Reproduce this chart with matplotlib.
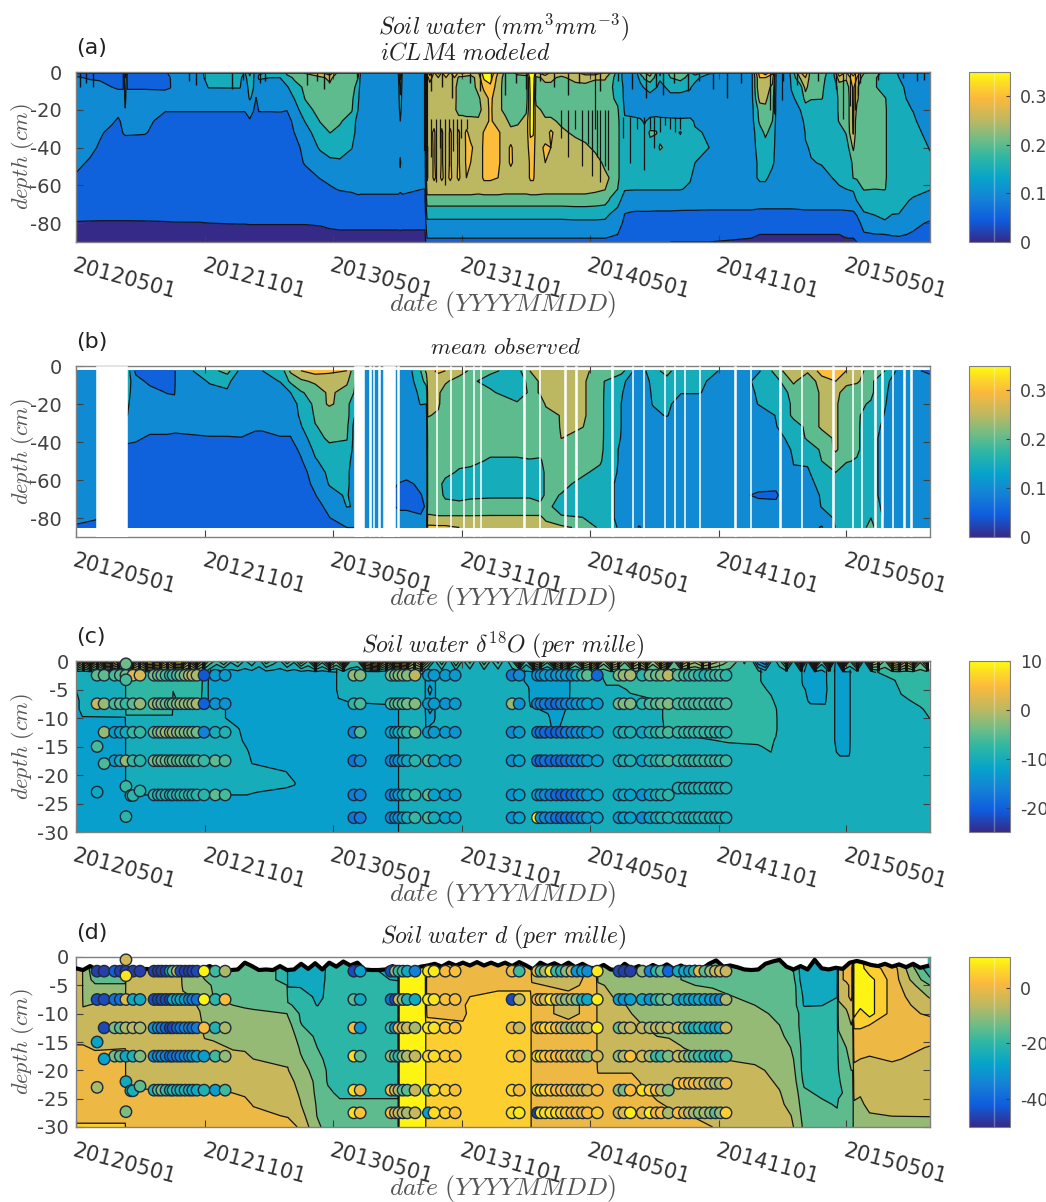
import numpy as np
import matplotlib
matplotlib.use('Agg')
import matplotlib.pyplot as plt
from matplotlib.colors import LinearSegmentedColormap, Normalize
from matplotlib.cm import ScalarMappable
from datetime import date

plt.rcParams['mathtext.fontset'] = 'cm'
plt.rcParams['contour.negative_linestyle'] = 'solid'

W, H = 1046.0, 1202.0
N = np.nan

parula = LinearSegmentedColormap.from_list('parula', [
    (0.0, '#352a87'), (0.125, '#0f5cdd'), (0.25, '#1481d6'), (0.375, '#06a4ca'),
    (0.5, '#2eb7a4'), (0.6, '#6fbc86'), (0.72, '#c0b860'), (0.85, '#fbb93c'),
    (0.92, '#fcd52a'), (1.0, '#fdfb0e')])

tick_dates = [date(2012, 5, 1), date(2012, 11, 1), date(2013, 5, 1), date(2013, 11, 1),
              date(2014, 5, 1), date(2014, 11, 1), date(2015, 5, 1)]
tick_names = [d.strftime('%Y%m%d') for d in tick_dates]
tick_days = [(d - tick_dates[0]).days for d in tick_dates]
last_day = 1214

# ---- (a) modeled soil water, percent, one line per date
rows_a = [0, -3, -8, -14, -20, -26, -32, -40, -48, -56, -62, -68, -74, -80, -86, -90]
days_a = [0, 20, 34, 51, 60, 67, 70, 73, 98, 127, 134, 140, 176, 182, 188, 233, 240, 247, 252, 256, 260,
          276, 290, 300, 311, 326, 347, 361, 375, 392, 401, 405, 458, 461, 464, 493, 496,
          499, 503, 509, 515, 520, 526, 532, 538, 544, 549, 555, 561, 572, 580, 589, 600, 610, 618, 628, 640,
          646, 650, 654, 667, 675, 690, 710, 724, 738, 752, 759, 770, 780, 795, 802, 808, 816, 825, 830, 845,
          859, 873, 880, 900, 960, 972, 980, 990, 996, 1010, 1017, 1030, 1037, 1045, 1060, 1075, 1085,
          1095, 1105, 1110, 1120, 1135, 1150, 1160, 1170, 1190, 1214]
swc_a = [
    [8, 10.5, 12, 12, 12, 12, 12, 12, 12, 9, 8, 8, 8, 4.5, 3, 3],
    [8, 9.5, 12, 12, 12, 12, 12, 12, 9, 8, 8, 8, 8, 4.3, 3, 3],
    [8, 9, 12, 12, 12, 12, 11, 9, 8, 8, 8, 8, 8, 4.2, 3, 3],
    [8, 8.5, 10, 12, 12, 11, 8, 8, 8, 8, 8, 8, 8, 4.2, 3, 3],
    [8, 8.5, 9.5, 12, 12, 9, 8, 8, 8, 8, 8, 8, 8, 4.2, 3, 3],
    [9, 9, 9.5, 12, 12, 11.5, 10.2, 8, 8, 8, 8, 8, 8, 4.2, 3, 3],
    [24, 20, 18, 16, 14.8, 12, 10.5, 8, 8, 8, 8, 8, 8, 4.2, 3, 3],
    [9, 9, 9.5, 12, 12, 12, 10.5, 8, 8, 8, 8, 8, 8, 4.2, 3, 3],
    [8, 8.5, 9.5, 12, 12, 11.5, 10.3, 8, 8, 8, 8, 8, 8, 4.3, 3, 3],
    [8, 8.5, 9.3, 12, 10.4, 8, 8, 8, 8, 8, 8, 8, 8, 4.5, 3, 3],
    [14, 10, 9.8, 12, 10.4, 8, 8, 8, 8, 8, 8, 8, 8, 4.6, 3, 3],
    [12, 12, 12, 12, 10.4, 8, 8, 8, 8, 8, 8, 8, 8, 4.7, 3, 3],
    [13, 12, 12, 12, 10.4, 8, 8, 8, 8, 8, 8, 8, 7.5, 4.8, 3, 3],
    [15.5, 15, 12, 12, 10.4, 8, 8, 8, 8, 8, 8, 8, 7.5, 4.9, 3, 3],
    [18, 16, 15.2, 12, 10.4, 8, 8, 8, 8, 8, 8, 8, 7.5, 5, 3, 3],
    [18, 16, 15.3, 12, 10.4, 8, 8, 8, 8, 8, 8, 8, 7.5, 5.2, 3, 3],
    [15, 13, 12, 12, 10.4, 8, 8, 8, 8, 8, 8, 8, 7.5, 5.2, 3, 3],
    [22, 19, 17, 15.5, 12, 9.5, 8, 8, 8, 8, 8, 8, 7.5, 5.3, 3, 3],
    [16, 15.6, 15.2, 14, 10.4, 8, 8, 8, 8, 8, 8, 8, 7.5, 5.3, 3, 3],
    [13, 12, 12, 9.8, 8, 8, 8, 8, 8, 8, 8, 8, 7.5, 5.3, 3, 3],
    [14, 16, 11, 12, 10.4, 8, 8, 8, 8, 8, 8, 8, 7.5, 5.3, 3, 3],
    [15.5, 15, 12, 12, 10.4, 8, 8, 8, 8, 8, 8, 8, 7.5, 5.3, 3, 3],
    [16, 15, 14, 12, 10.5, 8, 8, 8, 8, 8, 8, 8, 7.5, 5.3, 3, 3],
    [22, 18, 14.5, 12, 10.2, 8, 8, 8, 8, 8, 8, 8, 7.5, 5.3, 3, 3],
    [22, 21, 18, 15.3, 13, 11.5, 10.2, 8, 8, 8, 8, 8, 7.5, 5.3, 3, 3],
    [26, 22, 21, 20.3, 18, 15.3, 13, 12, 10.5, 8, 8, 8, 7.5, 5.3, 3, 3],
    [30, 24, 22, 22, 22, 20.2, 18, 15.5, 13, 10.2, 8, 8, 8, 5.5, 3.5, 3],
    [35, 26, 24, 22, 22, 22, 20.1, 17, 14, 11, 9.5, 8, 8, 6, 4, 3],
    [22, 22, 22, 22, 21, 20.5, 19, 16.5, 14.5, 11.5, 10.3, 8, 7.5, 6.5, 4, 3],
    [23, 22, 22, 21, 20.4, 18, 17, 15.2, 13, 11.5, 10.5, 8.8, 7.5, 6.5, 4, 3],
    [22, 20, 18, 16, 15, 13, 13, 12, 12, 12, 11, 9, 7.5, 6.5, 4, 3],
    [14, 13, 12, 12, 12, 12, 12, 12, 12, 12, 11, 8.8, 7.5, 6.5, 4, 3],
    [14, 13, 12, 12, 12, 12, 12, 12, 12, 12, 11, 8.8, 7.5, 6.5, 4, 3],
    [30, 26, 22, 19, 17, 15, 13, 11, 9.5, 11, 10.5, 8.8, 7.5, 6.5, 4.2, 3],
    [14, 13, 12, 12, 12, 12, 12, 12, 12, 12, 11, 8.8, 7.5, 6.5, 4, 3],
    [14, 13, 12, 12, 12, 12, 12, 12, 12, 11, 10, 8.6, 7.5, 6.5, 4, 3],
    [14, 13, 12, 12, 12, 12, 12, 12, 12, 11, 10, 8.6, 7.5, 6.5, 4, 3],
    [32, 28, 27, 27, 27, 27, 28, 31, 31, 31, 27, 23, 17, 14, 11, 9],
    [40, 32, 28, 27, 27, 27, 28, 27, 27, 27, 27, 23, 17, 14, 11, 9],
    [30, 28, 27, 27, 27, 28, 31, 31, 31, 31, 27, 23, 17, 14, 11, 9],
    [38, 30, 27, 27, 27, 26, 26, 26, 26, 28, 27, 23, 17, 14, 11, 9],
    [30, 28, 27, 27, 27, 28, 31, 31, 31, 31, 27, 23, 17, 14, 11, 9],
    [36, 30, 27, 27, 27, 26, 26, 26, 26, 28, 27, 23, 17, 14, 11, 9],
    [30, 28, 27, 27, 27, 28, 31, 31, 31, 31, 27, 23, 17, 14, 11, 9],
    [36, 30, 27, 27, 26, 26, 27, 27, 27, 28, 27, 23, 17, 14, 11, 9],
    [30, 24, 22, 22, 23, 27, 31, 31, 31, 31, 27, 23, 17, 14, 11, 9],
    [34, 23, 22, 22, 23, 27, 27, 26, 26, 28, 27, 23, 17, 14, 11, 9],
    [30, 23, 22, 22, 22, 27, 31, 31, 31, 30, 27, 23, 17, 14, 11, 9],
    [28, 23, 22, 22, 22, 27, 28, 31, 30, 28, 27, 23, 17, 14, 11, 9],
    [30, 27, 27, 24, 23, 26, 27, 27, 27, 27, 26.5, 23, 17, 14, 11, 9],
    [38, 36, 31, 28, 27, 27, 30.5, 31, 31, 31, 27, 23, 17, 14, 11, 9],
    [40, 37, 34, 31, 31, 31, 31, 31, 31, 31, 27, 23, 17, 14, 11, 9],
    [30, 28, 27, 27, 26, 27, 31, 31, 31, 30, 27, 23, 17, 14, 11, 9],
    [24, 23, 23, 23, 24, 26, 27, 27, 27, 27, 26.5, 23, 17, 14, 11, 9],
    [24, 22, 22, 22, 22, 24, 26, 31, 31, 27, 26.5, 23, 17, 14, 11, 9],
    [28, 22, 22, 22, 22, 24, 27, 26, 27, 27, 26.5, 23, 17, 14, 11, 9],
    [30, 22, 22, 22, 24, 27, 27, 27, 27, 27, 26.5, 23, 17, 14, 11, 9],
    [42, 38, 37, 36, 36, 36, 36, 33, 31, 31, 27, 23, 17, 14, 11, 9],
    [45, 40, 38, 37, 36, 36, 35.5, 33, 32, 31, 27, 23, 17, 14, 11, 9],
    [30, 24, 23, 22, 27, 27, 27, 27, 27, 27, 27, 23, 17, 14, 11, 9],
    [36, 26, 24, 22, 23, 26, 27, 31, 30, 27, 26.5, 23, 17, 14, 11, 9],
    [30, 26, 24, 23, 23, 26, 31, 30, 27, 27, 26.5, 23, 17, 14, 11, 9],
    [28, 24, 23, 23, 23, 24, 26, 27, 27, 27, 26.5, 23, 17, 14, 11, 9],
    [30, 27, 23, 22, 22, 24, 24, 27, 27, 27, 26.5, 23, 17.5, 14, 11, 9],
    [32, 28, 23, 22, 22, 23, 23, 26, 27, 27, 26.5, 23, 17.5, 14, 11, 9],
    [34, 26, 22, 22, 22, 22, 22, 24, 27, 27, 26, 22.5, 17.5, 14, 11, 9],
    [30, 26, 22, 22, 22, 21, 21, 21, 24, 26, 25.2, 22, 17, 14, 11, 9],
    [26, 22, 21, 21, 21, 21, 21, 22, 24, 24.8, 22, 19.5, 15.5, 13, 10.5, 9],
    [18, 18, 18, 19, 20.5, 21, 21, 21, 21, 21, 20, 16.5, 14, 12, 10, 8],
    [13, 13, 14, 14, 14.5, 15.5, 16, 16, 16, 16, 15.3, 13, 10.2, 9, 8, 7],
    [12, 13, 13, 13.5, 14, 15.5, 16, 17, 16, 16, 15.2, 12.5, 9.9, 8, 7, 6],
    [22, 16, 14, 14, 14, 15.3, 16, 19, 16, 16, 15.2, 12.5, 9.9, 8, 7, 6],
    [25, 21, 15.4, 12, 13, 14.8, 15.5, 16, 16, 16, 15.2, 12.5, 9.9, 8, 6.5, 5.5],
    [28, 24, 16, 14, 14, 15.5, 21, 18, 16, 16, 15.2, 12.5, 9.9, 8, 6.5, 5.5],
    [20, 18, 15.2, 12, 13.5, 16, 20.5, 16, 15.5, 16, 15.2, 12.5, 9.8, 8, 6.5, 5.5],
    [14, 15.5, 14, 13, 14, 15.5, 17, 21, 15.3, 16, 15.2, 12.5, 9.8, 8, 6.5, 5.5],
    [22, 20, 16, 14, 14, 15.4, 16, 17, 16, 16, 15.2, 12.5, 9.8, 7.5, 6, 5],
    [25, 22, 16, 14, 14, 15.3, 20.5, 17, 17, 16, 15.2, 12.3, 9.7, 7.5, 6, 5],
    [20, 18, 15.3, 14, 14, 15.4, 16, 16, 15.8, 15.3, 14.5, 12, 9.7, 7.5, 6, 5],
    [25, 16, 14, 13, 13, 14.8, 15.2, 15.1, 15, 14, 13.5, 12, 9.7, 7.5, 6, 5],
    [16, 13, 13, 13, 13, 13, 14.8, 15, 14.5, 13, 13, 12, 9.6, 7.5, 6, 5],
    [13, 13, 13, 13, 13, 13, 13, 13, 13, 13, 13, 12, 9.6, 7, 5.5, 4.5],
    [34, 30, 30, 27, 22, 21, 18, 17, 16, 16, 13, 12, 9.3, 7, 5, 4],
    [40, 30, 27, 26, 24, 21, 21, 18, 17, 16, 13, 12, 9.3, 7, 5, 4],
    [32, 27, 24, 22, 22, 20, 18, 17, 16, 13, 13, 12, 9.3, 7, 5, 4],
    [13, 13, 13, 13, 13, 13, 13, 13, 13, 13, 13, 12, 9.3, 7, 5, 4],
    [13, 13, 13, 13, 13, 13, 13, 13, 13, 13, 13, 12, 9.3, 7, 5, 4],
    [16, 15.5, 15.2, 14.5, 13, 13, 13, 13, 13, 13, 13, 12, 9.3, 7, 5, 4],
    [30, 26, 18, 16, 15.1, 14, 13, 13, 13, 13, 13, 12, 9.5, 7, 5, 4],
    [34, 30, 27, 22, 17, 15.8, 15.2, 14.8, 13, 13, 13, 12, 9.6, 7, 5, 4],
    [22, 22, 21, 20.5, 16, 16, 15.5, 15.2, 14.9, 13, 13, 12, 9.6, 7, 5, 4],
    [24, 22, 21, 20.3, 16, 16, 16, 15.5, 15.1, 14.5, 13, 12, 9.6, 7, 5, 4],
    [16, 16, 16, 16, 16, 16, 16, 15.8, 15.4, 15, 14.8, 12, 9.6, 7, 5, 4],
    [36, 28, 22, 21, 21, 20.5, 17, 16, 16, 15.4, 14.8, 12, 9.6, 7, 5, 4],
    [30, 26, 22, 21, 21, 21, 20.5, 17, 16, 15.5, 15, 13, 9.6, 7, 5.5, 4.5],
    [40, 33, 31, 31, 31, 31, 30.5, 26, 21, 20.2, 15.4, 13.5, 9.8, 7.5, 5.5, 4.5],
    [34, 30, 26, 26, 24, 21, 21, 21, 21, 20.5, 17, 15.2, 11, 8, 5.5, 5],
    [26, 22, 21, 21, 21, 21, 21, 21, 21, 21, 20.4, 16, 15, 12, 9.5, 5.5],
    [24, 21, 21, 21, 21, 21, 21, 21, 21, 21, 20, 16, 15.2, 14.5, 9.8, 8],
    [18, 16, 16, 20.5, 21, 21, 21, 21, 21, 21, 20.3, 16, 15.5, 14.8, 10, 8],
    [16, 15.5, 16, 16, 16, 16, 16, 16, 16, 16, 16, 15.5, 15.3, 14, 10.3, 8.5],
    [14.5, 15, 16, 16, 16, 16, 16, 16, 16, 16, 16, 15.5, 15.2, 14, 10.5, 8.5],
    [12, 12, 13, 14, 14.9, 15.5, 16, 16, 16, 16, 15.5, 14.8, 13, 11, 9.6, 8.5],
    [12, 12, 12, 12, 12, 13, 14, 14.9, 15.3, 15.3, 15.1, 14, 12, 9.5, 9, 8.5],
]
# narrow dark spikes between the model layers: date, upper depth, lower depth
spike_days_a = [505, 512, 518, 524, 530, 536, 542, 548, 556,
                690, 700, 710, 720, 728, 733, 740, 745, 752, 756,
                777, 788, 797, 808, 816, 822, 830, 838, 845, 852, 858,
                738, 987, 992, 1003, 1090, 1100, 1107, 1112]
spike_top_a = [-25, -25, -25, -25, -25, -25, -25, -25, -25,
               -20, -20, -20, -20, -20, -20, -20, -20, -20, -20,
               -24, -24, -24, -24, -24, -24, -24, -24, -24, -24, -24,
               0, 0, 0, 0, 0, 0, 0, 0]
spike_low_a = [-45, -58, -40, -60, -50, -42, -38, -35, -30,
               -35, -45, -30, -50, -38, -55, -45, -58, -50, -52,
               -35, -48, -30, -52, -30, -40, -32, -28, -30, -32, -30,
               -30, -20, -22, -15, -25, -18, -20, -12]
fringe_days_a = [6, 14, 24, 160, 170, 222, 238, 262, 268, 328, 342, 352, 360, 400,
                 505, 520, 535, 560, 575, 590, 610, 625, 640, 660, 680, 700, 715, 745, 770, 790, 810,
                 825, 835, 850, 870, 885, 905, 925, 945, 1005, 1025, 1055, 1080, 1115, 1140, 1175, 1195, 1205]
fringe_low_a = [-8, -6, -8, -5, -7, -9, -4, -6, -5, -7, -5, -9, -6, -3,
                -10, -8, -14, -6, -10, -5, -12, -6, -9, -5, -8, -12, -6, -10, -5, -9, -14,
                -8, -12, -6, -10, -5, -9, -14, -6, -5, -7, -5, -9, -6, -4, -3, -5, -4]

# ---- (b) observed soil water, percent
rows_b = [-2.5, -8, -14, -20, -26, -32, -38, -44, -50, -56, -62, -68, -74, -80, -85]
days_b = [0, 28, 72, 85, 105, 130, 140, 142, 190, 215, 235, 255, 265, 290, 305, 320, 340, 360, 385, 395,
          415, 462, 470, 490, 498, 500, 515, 525, 545, 561, 589, 627, 645, 660, 668, 690, 720, 745, 775, 800,
          820, 840, 860, 885, 930, 950, 970, 995, 1020, 1040, 1060, 1080, 1095, 1110, 1130, 1150, 1175, 1214]
swc_b = [
    [12, 12, 12, 12, 12, 12, 12, 12, 12, 12, 12, 12, 12, 11, 9.5],
    [14, 12, 12, 12, 12, 12, 12, 12, 12, 12, 12, 12, 12, 10.5, 8],
    [18, 18, 17, 16, 15.3, 12, 11, 9, 8, 8, 8, 8, 8, 8, 8],
    [9, 11.5, 12, 12, 12, 11, 10.5, 9, 8, 8, 8, 8, 8, 8, 8],
    [8, 9, 11.5, 12, 12, 11, 9.5, 8, 8, 8, 8, 8, 8, 8, 8],
    [8, 8, 9.8, 12, 12, 11, 9.5, 8, 8, 8, 8, 8, 8, 8, 8],
    [8, 8, 9.5, 12, 12, 10.5, 9.6, 8, 8, 8, 8, 8, 8, 8, 8],
    [12, 12, 12, 12, 12, 10.5, 9.6, 8, 8, 8, 8, 8, 8, 8, 8],
    [18, 15.3, 14, 12, 12, 11, 9.8, 8, 8, 8, 8, 8, 8, 8, 8],
    [22, 16, 14.5, 12, 12, 11, 9.8, 8, 8, 8, 8, 8, 8, 8, 8],
    [13, 12, 12, 12, 12, 11, 9.9, 8, 8, 8, 8, 8, 8, 8, 8],
    [12, 12, 12, 10.2, 10.5, 10.3, 9.5, 8, 8, 8, 8, 8, 8, 8, 8],
    [15, 13, 12, 12, 12, 10.3, 9.5, 8, 8, 8, 8, 8, 8, 8, 8],
    [16, 15.2, 12, 12, 12, 11, 9.8, 8, 8, 8, 8, 8, 8, 8, 8],
    [26, 21, 15, 12, 12, 11, 9.8, 8, 8, 8, 8, 8, 8, 8, 8],
    [30, 24, 19.5, 17, 16, 14.7, 12.5, 11, 9.5, 8, 8, 8, 8, 8, 8],
    [32, 26, 22, 21, 20.5, 19.8, 18, 16, 14.5, 12.5, 11, 9.8, 8, 8, 8],
    [31, 27, 26, 26, 21, 21, 21, 18.5, 17, 16, 15.3, 13.5, 11.5, 9.8, 8],
    [30, 26, 23, 22, 22, 21, 20.4, 18, 17, 16, 16, 15.5, 15.1, 13, 10],
    [22, 21, 20, 16, 15.5, 14, 14, 14, 13, 13, 13, 13, 14.9, 12, 10],
    [11, 12, 12, 12, 12, 12, 12, 12, 12, 12, 12, 12, 12, 12, 12],
    [12, 12, 12, 12, 12, 12, 12, 12, 12, 11, 9.8, 9, 9.5, 11, 12],
    [12, 12, 12, 12, 12, 12, 12, 12, 12, 11, 9.5, 8, 9.5, 11, 12],
    [20, 18, 16, 15.2, 12, 12, 12, 12, 12, 11, 10.5, 9.9, 9, 10.5, 12],
    [26, 22, 17, 15, 12, 12, 12, 12, 11, 10.5, 10.5, 10.5, 10.5, 10.2, 10.2],
    [28, 27, 26, 26, 25.5, 22, 21, 21, 21, 21, 21, 21, 21, 27, 31],
    [31, 27, 26, 26, 24, 22, 21, 21, 21, 21, 21, 21, 21, 26, 31],
    [30, 26, 22, 21, 21, 21, 21, 21, 21, 21, 19, 19.5, 21, 26, 31],
    [28, 22, 21, 21, 21, 21, 21, 21, 21, 19.5, 18, 19, 21, 26, 30],
    [24, 21, 21, 21, 21, 21, 21, 21, 21, 19, 18, 19.5, 21, 26, 30],
    [21, 18, 21, 21, 21, 21, 21, 21, 19.5, 18, 18, 19.5, 21.5, 26, 28],
    [18, 18, 16, 21, 21, 21, 21, 21, 19.5, 18, 18, 19.5, 21.5, 26, 28],
    [25, 21, 21, 21, 21, 21, 21, 21, 19.8, 18, 18, 19.5, 21.5, 26, 28],
    [28, 26, 26, 21, 21, 21, 21, 21, 19.6, 18, 18, 18, 21.5, 26, 27],
    [28, 26, 26, 26, 22, 21, 21, 21, 21, 21, 21, 21, 22, 24, 27],
    [27, 26, 26, 26, 25.5, 25.5, 25.1, 21, 21, 21, 21, 19.8, 17, 21, 26],
    [27, 26, 26, 26, 26, 25.2, 22, 21, 21, 20.6, 19, 17, 17, 20.2, 24],
    [22, 21, 21, 21, 21, 21, 21, 21, 20.5, 19, 17, 17, 17, 17, 19],
    [22, 16, 15.3, 15, 15, 15, 14.8, 14, 14, 14, 14, 14, 14, 14, 14],
    [12, 12, 12, 12, 12, 12, 12, 12, 12, 12, 12, 12, 12, 11, 9.8],
    [18, 16, 15.5, 15.2, 14, 12, 12, 12, 12, 12, 12, 12, 12, 12, 11],
    [22, 18, 16, 15.5, 15.3, 12, 12, 12, 12, 12, 12, 12, 12, 12, 12],
    [16, 15.4, 15.1, 14, 12, 12, 12, 12, 12, 12, 12, 12, 12, 12, 12],
    [20, 16, 15.3, 12, 12, 12, 12, 12, 12, 12, 12, 12, 12, 12, 12],
    [12, 12, 12, 12, 12, 12, 12, 12, 12, 12, 12, 12, 12, 12, 12],
    [12, 12, 12, 12, 12, 12, 12, 12, 12, 12, 12, 10.3, 12, 12, 12],
    [14, 18, 16, 15.2, 12, 12, 12, 12, 12, 12, 11, 9.6, 11, 12, 12],
    [22, 18, 16, 15.5, 15.2, 14.8, 14.5, 14, 12, 12, 11, 9.4, 11, 12, 12],
    [30, 26, 22, 21, 21, 18, 15.5, 15.2, 15.1, 14.8, 14.5, 14, 12, 12, 12],
    [26, 21, 21, 21, 21, 21, 21, 16, 15.2, 14.8, 14.5, 14, 12, 12, 12],
    [32, 28, 26, 26, 26, 26, 22, 21, 20, 16, 15.5, 15.2, 15.2, 13, 9.5],
    [34, 30, 27, 26, 26, 26, 26, 26, 21, 20, 16, 16, 15.8, 15.5, 15.2],
    [30, 27, 22, 21, 21, 21, 21, 21, 20.5, 17, 16, 16, 16, 16, 15.5],
    [28, 26, 21, 21, 21, 21, 21, 21, 19.5, 16, 16, 16, 16, 16, 16],
    [22, 21, 21, 19.5, 17, 16, 16, 16, 16, 16, 16, 16, 17, 20, 22],
    [20, 16, 15.5, 15.2, 14.8, 14.5, 14, 14, 14, 14, 14, 14, 14, 14, 14],
    [12, 12, 12, 12, 12, 12, 12, 12, 12, 12, 12, 12, 12, 12, 11.5],
    [9, 12, 12, 12, 12, 12, 12, 12, 12, 12, 12, 12, 12, 12, 11],
]
missing_b = [(28, 72), (395, 409), (417, 419), (422, 424), (430, 432), (436, 454), (457, 459),
             (512, 513), (531, 533), (550, 552), (564, 566), (574, 576), (636, 638), (658, 660), (694, 696),
             (710, 712), (761, 763), (790, 792), (806, 808), (836, 838), (850, 851), (864, 866), (885, 887),
             (936, 938), (958, 960), (1000, 1002), (1030, 1032), (1075, 1077), (1103, 1105), (1116, 1118),
             (1135, 1137), (1145, 1147), (1176, 1178), (1186, 1188), (1160, 1162)]

# ---- (c) soil water d18O, per mille
rows_c = [-1.5, -3.5, -5, -7, -8.5, -10, -12, -14, -16, -18, -20, -21.5, -23, -24.5, -30]
days_c = [0, 9, 68, 70, 71, 137, 138, 149, 178, 181, 195, 230, 243, 250, 299, 311, 314, 368, 373, 390,
          458, 459, 482, 495, 498, 503, 509, 513, 631, 643, 646, 671, 678, 688, 700, 704, 741, 754, 771, 788,
          830, 838, 927, 969, 975, 988, 995, 998, 1030, 1033, 1044, 1065, 1068, 1071, 1086, 1099, 1102,
          1135, 1140, 1164, 1173, 1200, 1214]
d18o_c = [
    [-9, -9, -10, -11, -11, -11, -11, -11, -11, -11, -11, -11, -11, -11, -11],
    [-9, -9, -9, -9, -9, -10.2, -11, -11, -11, -11, -11, -11, -11, -11, -11],
    [-8, -9, -9, -9, -9, -10.1, -11, -11, -11, -11, -11, -11, -11, -11, -11],
    [-8, -9, -9, -9, -9, -10.1, -11, -11, -11, -11, -11, -11, -11, -11, -11],
    [-6, -6, -6, -6, -6.5, -8, -9, -9, -9, -9, -9, -9, -9.5, -11, -11],
    [-6, -6, -6, -6, -6.5, -8, -9, -9, -9, -9, -9, -9, -9.5, -11, -11],
    [-6, -6, -7.2, -9, -9, -9, -9, -9, -9, -9, -9, -9, -9.5, -11, -11],
    [-6, -6, -6, -6, -7.5, -9, -9, -9, -9, -9, -9, -9, -9.5, -11, -11],
    [-6, -6, -6.5, -7.5, -9, -9, -9, -9, -9, -9, -9, -9, -9.5, -11, -11],
    [-7, -9, -9, -9, -9, -9, -9, -9, -9, -9, -9, -9, -9.5, -11, -11],
    [-11, -11, -11, -11, -9, -9, -9, -9, -9, -9, -9, -9, -9.5, -11, -11],
    [-11, -11, -11, -11, -11, -11, -9.8, -9, -9, -9, -9, -9, -9.5, -11, -11],
    [-11, -11, -11, -11, -11, -11, -11, -11, -9.5, -9, -9, -9, -9.5, -11, -11],
    [-11, -11, -11, -11, -11, -11, -11, -11, -11, -10, -9, -9, -9.8, -11, -11],
    [-11, -11, -11, -11, -11, -11, -11, -11, -11, -11, -9.6, -9, -11, -11, -11],
    [-11, -11, -11, -11, -11, -11, -11, -11, -11, -11, -11, -9.8, -11, -11, -11],
    [-11, -11, -11, -11, -11, -11, -11, -11, -11, -11, -11, -11, -11, -11, -11],
    [-11, -11, -11, -11, -11, -11, -11, -11, -11, -11, -11, -11, -11, -11, -11],
    [-9, -9, -9, -10.3, -11, -11, -11, -11, -11, -11, -11, -11, -11, -11, -11],
    [-9, -9, -9, -9.8, -11, -11, -11, -11, -11, -11, -11, -11, -11, -11, -11],
    [-9, -9, -9, -9, -11, -11, -11, -11, -11, -11, -11, -11, -11, -11, -11],
    [-8, -9, -9, -9, -9, -9, -9, -9, -9, -9, -9, -9, -9, -9, -9],
    [-6, -8, -9, -9, -9, -9, -9, -9, -9, -9, -9, -9, -9, -9, -9],
    [-7, -9, -9, -9, -9, -9, -9, -9, -9, -9, -9, -9, -9, -9, -9],
    [-11, -11, -11, -11, -11, -10.5, -10.5, -9, -9, -9, -9, -9, -9, -9, -9],
    [-9, -11, -9, -11, -9, -11, -9.5, -9.8, -9, -9, -9, -9, -9, -9, -9],
    [-11, -11, -11, -11, -10.5, -10.5, -9, -9, -9, -9, -9, -9, -9, -9, -9],
    [-9, -9, -9, -9, -9, -9, -9, -9, -9, -9, -9, -9, -9, -9, -9],
    [-9, -9, -9, -9, -9, -9, -9, -9, -9, -9, -9, -9, -9, -9, -9],
    [-11, -11, -9.5, -9, -9, -9, -9, -9, -9, -9, -9, -9, -9, -9, -9],
    [-11, -11, -11, -11, -9.5, -9, -9, -9, -9, -9, -9, -9, -9, -9, -9],
    [-11, -11, -11, -11, -10.5, -9.5, -9, -9, -9, -9, -9, -9, -9, -9, -9],
    [-11, -11, -11, -11, -11, -11, -10.3, -9.5, -9, -9, -9, -9, -9, -9, -9],
    [-11, -11, -11, -11, -11, -10.5, -9.8, -9, -9, -9, -9, -9, -9, -9, -9],
    [-11, -11, -11, -10.6, -9.5, -9, -9, -9, -9, -9, -9, -9, -9, -9, -9],
    [-9, -9, -9, -9, -9, -9, -9, -9, -9, -9, -9, -9, -9, -9, -9],
    [-8, -9, -9, -9, -9, -9, -9, -9, -9, -9, -9, -9, -9, -9, -9],
    [-6, -7, -8, -9, -9, -9, -9, -9, -9, -9, -9, -9, -9, -9, -9],
    [-6, -6.5, -8.5, -9, -9, -9, -9, -9, -9, -9, -9, -9, -9, -9, -9],
    [-6, -6, -7, -8.5, -9, -9, -9, -9, -9, -9, -9, -9, -9, -9, -9],
    [-6, -6, -6, -7.5, -9, -9, -9, -9, -9, -9, -9, -9, -9, -9, -9],
    [-6, -6, -6, -6, -6, -6, -7, -9, -9, -9, -9, -9, -9, -9, -9],
    [-6, -6, -6, -6, -6, -6, -6, -7.2, -9, -9, -9, -9, -9, -9, -9],
    [-6, -6, -6, -6, -6, -6, -6, -7, -8.5, -9, -9, -9, -9, -9, -9],
    [-8, -8, -6, -6, -6, -6, -6, -6.5, -8.5, -9, -9, -9, -9, -9, -9],
    [-9, -9, -9, -6, -6, -6, -6, -6, -7.5, -9, -9, -9, -9, -9, -9],
    [-9, -9, -9, -9, -7, -6, -6, -8.5, -9, -9, -9, -9, -9, -9, -9],
    [-9, -9, -9, -9, -9, -9, -9, -9, -9, -9, -9, -9, -9, -9, -9],
    [-9, -9, -9, -9, -9, -9, -9, -9, -9, -9, -9, -9, -9, -9, -9],
    [-11, -10.5, -9.5, -9, -9, -9, -9, -9, -9, -9, -9, -9, -9, -9, -9],
    [-11, -11, -11, -10.5, -9, -9, -9, -9, -9, -9, -9, -9, -9, -9, -9],
    [-11, -11, -11, -10.5, -9.2, -9, -9, -9, -9, -9, -9, -9, -9, -9, -9],
    [-9.5, -9.5, -9.8, -9, -9, -9, -9, -9, -9, -9, -9, -9, -9, -9, -9],
    [-9, -9, -9, -9, -9, -9, -9, -9, -9, -9, -9, -9, -9, -9, -9],
    [-11, -11, -11, -11, -11, -11, -11, -11, -10.5, -9, -9, -9, -9, -9, -9],
    [-11, -11, -11, -11, -11, -11, -11, -11, -10.5, -9, -9, -9, -9, -9, -9],
    [-9, -9, -9, -9, -9, -9, -9, -9, -9, -9, -9, -9, -9, -9, -9],
    [-9, -9, -9, -9, -9, -9, -9, -9, -9, -9, -9, -9, -9, -9, -9],
    [-7, -9, -9, -9, -9, -9, -9, -9, -9, -9, -9, -9, -9, -9, -9],
    [-6, -7.6, -9, -9, -9, -9, -9, -9, -9, -9, -9, -9, -9, -9, -9],
    [-6, -6, -6.8, -8.5, -9, -9, -9, -9, -9, -9, -9, -9, -9, -9, -9],
    [-6, -6, -6, -6.5, -8, -9, -9, -9, -9, -9, -9, -9, -9, -9, -9],
    [-6, -6, -6, -6, -6.5, -7.4, -9, -9, -9, -9, -9, -9, -9, -9, -9],
]

# ---- (d) soil water deuterium excess, per mille
rows_d = [0, -2, -4, -5, -7, -8.5, -10, -12, -14, -16, -18, -20, -22, -24, -26, -28, -30]
days_d = [0, 9, 10, 27, 68, 70, 71, 148, 152, 176, 183, 195, 223, 240, 252, 300, 301, 319, 343, 351, 358,
          375, 458, 459, 496, 499, 550, 560, 600, 646, 648, 700, 739, 742, 765, 790, 805, 826, 843, 860,
          880, 905, 935, 965, 1000, 1020, 1035, 1060, 1082, 1084, 1095, 1102, 1104, 1106, 1115, 1128, 1160,
          1214]
dexc_d = [
    [-3, -3, -3, -3, -3, -3, -3, -3, -3, 1, 3, 3, 3, 3, 3, 3, 6],
    [-3, -3, -3, -3, -3, -3, -3, -3, -3, 1, 3, 3, 3, 3, 3, 3, 6],
    [-8, -8, -8, -8, -7, -5.5, -3, -3, -3, 1, 3, 3, 3, 3, 3, 3, 6],
    [-12, -12, -11, -9.6, -7, -4.5, -3, -3, -3, -1, 3, 3, 3, 3, 3, 3, 6],
    [-12, -12, -11, -9.6, -7, -4.5, -3, -3, -3, -0.3, 3, 3, 3, 3, 3, 3, 6],
    [-12, -12, -11, -9.6, -7, -4.5, -3, -3, -3, -0.3, 3, 3, 3, 3, 3, 3, 6],
    [-4, -3, -3, -3, -3, -3, -3, -3, -3, -3, -3, -3, -2, 1, 3, 3, 3],
    [-4, -3, -3, -3, -3, -3, -3, -3, -3, -3, -3, -3, -2, 1, 3, 3, 3],
    [-7, -7, -6.5, -6, -4, -3, -3, -3, -3, -3, -3, -3, -2, 1, 3, 3, 3],
    [-11, -11, -8, -7, -6, -5.5, -4.8, -3, -3, -3, -3, -3, -2, 1, 3, 3, 3],
    [-12, -11, -10, -7, -7, -7, -7, -7, -5.5, -3, -3, -3, -2, 1, 3, 3, 3],
    [-12, -12, -12, -11, -10, -8, -7, -7, -6, -3.5, -3, -3, -2, 1, 3, 3, 3],
    [-13, -13, -13, -12, -11, -10, -8, -7, -6, -5.5, -3, -3, -2, 0, 3, 3, 3],
    [-13, -13, -13, -12.5, -11.5, -10.5, -9, -7, -7, -5.5, -4, -3, -2.5, -1, 2, 3, 3],
    [-14, -13, -13, -13, -11, -10.5, -9.5, -7, -7, -6, -5, -3, -3, -1, -0.5, 2, 3],
    [-16, -16, -16, -15, -12, -11, -10, -8, -7, -6, -5.5, -4.8, -3, -3, -2, -0.5, 3],
    [-22, -22, -22, -20.5, -17, -14, -10.5, -8, -7, -6, -5.5, -4.8, -3, -3, -2, -0.5, 3],
    [-22, -22, -21, -20.5, -18, -17, -15.5, -14.8, -12, -10.5, -9.5, -8, -7, -5.5, -4.8, -3, -1],
    [-23, -23, -22, -22, -20.8, -20.2, -18, -17, -16, -15, -13, -12, -11, -11, -10.5, -10.2, -9],
    [-23, -23, -22, -21, -20.2, -19, -18, -17, -17, -16, -15, -13, -13, -12, -12, -11, -10.5],
    [-17, -17, -17, -17, -17, -17, -17, -17, -17, -17, -16, -16, -15.5, -14, -13, -12, -10.5],
    [-17, -17, -17, -17, -17, -17, -17, -17, -17, -17, -17, -17, -17, -16, -14, -13, -12],
    [-22, -22, -20.5, -18, -17, -17, -17, -17, -17, -17, -17, -17, -17, -16, -14, -13, -12],
    [12, 12, 12, 12, 12, 12, 12, 12, 12, 12, 12, 12, 12, 12, 12, 12, 12],
    [12, 12, 12, 12, 12, 12, 12, 12, 12, 12, 12, 12, 12, 12, 12, 12, 12],
    [3, 3, 3, 3, 3, 3, 4, 7, 7, 7, 7, 7, 7, 7, 7, 7, 7],
    [-3, 3, 0, 3, 3, 4, 3, 6, 7, 7, 7, 7, 7, 7, 7, 7, 7],
    [-3, 3, 3, 3, 5, 7, 7, 7, 7, 7, 7, 7, 7, 7, 7, 7, 7],
    [3, 3, 3, 4, 6, 7, 7, 7, 7, 7, 7, 7, 7, 7, 7, 7, 7],
    [3, 3, 3, 4, 6, 7, 7, 7, 7, 7, 7, 7, 7, 7, 7, 7, 7],
    [-2, -2, -1, 1, 3, 3, 3, 3, 3, 3, 3, 3, 3, 3, 3, 3, 3],
    [-6, -6, -3, -2, 2, -2, -2, 2, 3, 3, 3, 3, 3, 3, 3, 3, 3],
    [3, 3, 3, 3, 3, 3, 3, 3, 3, 3, 3, 3, 3, 3, 3, 3, 3],
    [-8, -8, -6, -4, -3, -3, -3, -3, -3, -3, -3, -1, 3, 3, 3, 3, 3],
    [-8, -8, -7, -6.5, -5.2, -4, -3, -3, -3, -3, -3, -1, 3, 3, 3, 3, 3],
    [-8, -8, -8, -7, -6, -5.5, -5, -3, -3, -3, -3, -1, 3, 3, 3, 3, 3],
    [-8, -8, -8, -7, -6, -6, -6, -5, -3, -3, -3, -2.5, -1, 1, 3, 3, 3],
    [-9, -9, -8, -7, -7, -7, -6, -5.5, -5, -3, -3, -3, -2.5, -1, 0.5, 3, 3],
    [-9, -9, -9, -8, -7, -6, -6, -5.5, -5.2, -4, -3, -3, -3, -2, -0.5, 1, 3],
    [-10, -10, -10, -9, -7, -7, -6, -6, -5.5, -4.9, -3, -3, -3, -3, -1, 0.5, 3],
    [-13, -13, -10.3, -10, -8, -7, -7, -7, -7, -5.5, -4.5, -3, -3, -3, -2, -0.5, 2],
    [-13, -13, -12, -10.5, -8.5, -7, -7, -7, -7, -6, -4.7, -3, -3, -3, -3, -1.5, 0],
    [-13, -13, -13, -12, -10, -8.5, -7, -7, -7, -7, -5.5, -3, -3, -3, -3, -3, -2],
    [-13, -13, -13, -12, -11, -10, -9, -8, -7, -7, -6, -4, -3.5, -3.5, -3, -3, -3],
    [-13, -13, -13, -13, -12, -12, -10.8, -10, -9, -8, -7, -6.5, -5.5, -4.8, -4.5, -4, -4],
    [-16, -15.5, -14, -13, -13, -13, -13, -13, -12, -10.5, -10, -9, -8, -7, -6, -5.2, -5],
    [-24, -24, -24, -23, -21, -20.5, -17, -17, -17, -17, -17, -17, -16, -14, -13, -12, -11],
    [-24, -24, -24, -23, -21, -20.2, -17, -17, -17, -17, -17, -17, -17, -16, -14, -12, -11],
    [-22, -22, -22, -21, -20.2, -18, -17, -17, -17, -17, -17, -17, -17, -17, -15.5, -14, -12],
    [-5, -3, -3, -3, -4, -6, -7, -9, -11, -13, -14, -15, -15.5, -16, -14, -13, -12],
    [3, 2, 2, -3, -3, -4, -6, -7, -8, -10, -11, -12, -13, -14, -14, -13, -12],
    [7, 3, 3, 3, 3, -3, -3, -5, -7, -8, -9, -10, -11, -12, -13, -12, -12],
    [3, -4, -3, -3, -3, -3, -4, -6, -7, -8, -9, -10, -11, -12, -13, -12, -12],
    [12, 12, 12, 12, 12, 12, 12, 6, 3, 3, 1, -2, -3, -3, -6, -7, -7],
    [12, 12, 12, 12, 12, 12, 7, 6, 3, 3, 0, -3, -3, -4.5, -6, -7, -7],
    [3, 7, 12, 12, 12, 12, 12, 5, 3, 3, -1, -3, -3, -3, -3.5, -5.5, -7],
    [-3, 3, 3, 3, 3, 3, 3, 3, 3, 3, 1, -3, -3, -3, -3, -4.9, -7],
    [-20, -19, -14, -10, -5.5, -3, -1, 3, 3, -0.5, -3, -3, -3, -3, -3, -4.8, -7],
]

# ---- surface strip, one value every 10 days
top_days = list(range(0, 1220, 10))
surface_c = [12, 3, 14, 2, 13, 12, 6, 14, 13, 4, 14, 13, 12, 5, 13, 14, 3, 12, 2, -3,
             -6, -2, -7, -4, -8, -5, -9, -3, -6, -8, -3, -7, 0, -5, 4, -4, 6, -2, 8, -5,
             -6, 9, 12, 14, 3, 13, 12, 13, 2, 8, -1, -8, -3, -9, -2, -8, -4, -9, -3, -8,
             -4, -9, -5, 6, -6, 8, 3, -4, 9, 2, 10, -2, 8, 3, 12, -1, 9, 5, -2, 8,
             2, 9, -1, 7, 12, -3, 8, 3, 1, 5, 3, 1, -1, -3, -5, -8, -6, -15, -18, -9,
             -6, 2, -8, 5, -10, 8, -6, 9, -11, 7, -5, 4, -8, 6, 2, -3, 8, 10, 3, 9, -2, 8]
surface_d = [-2.0, -2.3, -1.6, -2.3, -2.1, -2.4, -2.2, -2.3, -2.0, -2.3,
             -2.1, -2.3, -2.2, -2.2, -2.3, -1.9, -2.3, -2.2, -2.0, -1.6,
             -2.2, -2.3, -2.3, -2.2, -1.0, -1.6, -2.3, -2.2, -2.3, -1.6,
             -2.3, -2.2, -1.2, -2.1, -1.1, -2.2, -1.0, -1.7, -0.8, -1.5,
             -1.0, -2.2, -2.3, -2.3, -2.2, -1.6, -2.3, -2.2, -2.3, -1.7,
             -1.5, -1.2, -1.7, -1.0, -1.5, -1.0, -1.5, -0.9, -1.5, -1.0,
             -1.5, -1.0, -1.6, -0.9, -1.5, -2.2, -1.0, -1.6, -1.1, -1.7,
             -1.0, -1.8, -1.2, -1.9, -2.0, -1.4, -2.2, -2.3, -1.2, -2.1,
             -1.6, -2.2, -1.4, -2.0, -1.3, -2.1, -1.5, -2.2, -1.7, -2.1,
             -1.2, -0.6, -1.7, -1.5, -1.8, -2.2, -2.3, -2.2, -1.2, -0.8,
             -0.5, -1.7, -2.2, -1.6, -2.2, -0.5, -2.0, -2.2, -1.9, -2.1,
             -1.0, -0.7, -1.0, -1.4, -1.6, -1.2, -1.7, -1.3, -1.8, -1.2, -1.9, -1.6]

# ---- isotope samples, same dates in (c) and (d)
sample_days = [30, 40, 55, 63, 71, 81, 91,
               111, 117, 122, 128, 134, 138, 144, 149, 155, 161, 166, 172,
               182, 198, 212, 395, 404,
               448, 454, 459, 465, 471, 482, 501, 509, 525, 539, 620, 630,
               656, 661, 667, 675, 683, 690, 697, 705, 712, 720, 727, 741,
               772, 779, 788, 805, 816, 825, 832, 842,
               856, 865, 872, 879, 886, 894, 902, 909, 916, 924]
sample_depths = [-2.5, -7.5, -12.5, -17.5, -23.5, -27.5]

sample_c = [
    [-5, -5, -6, -5, -4, 3, 2, -3, -4, -4, -6, -7, -7, -6, -4, -3, 0, 0, -1, -21, -13, -13, -2, -3,
     -4, -3, -3, -2, -3, 0, -13, -13, -13, -13, -17, -15,
     -14, -15, -13, -14, -14, -13, -13, -14, -11, -7, -5, -19,
     -3, -2, -1, -8, -4, -4, -3, 0, -5, -6, -7, -6, -8, -9, -7, -7, -6, -8],
    [1, -2, -6, -5, -7, -5, -2, -2, -2, -3, -4, -4, -4, -3, -2, -2, -1, -2, -1, -20, -14, -14, -8, -6,
     -6, -5, -5, -5, -4, -3, -13, -13, -14, -13, -2, -14,
     -15, -16, -17, -18, -19, -17, -16, -15, -14, -13, -12, -13,
     -4, -3, -3, -8, -6, -5, -4, -3, -6, -6, -6, -6, -6, -6, -6, -6, -6, -6],
    [N, -2, -13, -12, -10, -7, -7, -4, -3, -3, -1, -1, -2, -2, -3, -3, -3, -3, -4, -16, -10, -9, -16, -6,
     -12, -12, -10, -9, -8, -4, -13, -13, -13, -14, -15, -13,
     -17, -18, -19, -20, -20, -19, -17, -16, -15, -14, -13, -13,
     -10, -9, -9, -11, -9, -8, -7, -6, -7, -7, -7, -7, -7, -7, -7, -7, -8, -8],
    [N, N, -13, -10, -2, -7, -8, -3, -4, -4, -4, -4, -5, -5, -5, -5, -5, -6, -6, -7, -5, -6, -18, -15,
     -16, -15, -14, -13, -11, -8, -6, -11, -13, -13, -14, -12,
     -18, -19, -18, -19, -19, -19, -18, -17, -16, -15, -13, -12,
     -10, -9, -9, -12, -9, -8, -7, -6, -7, -7, -7, -7, -7, -7, -7, -7, -7, -7],
    [N, N, N, N, N, N, N, -8, -9, -9, -9, -9, -9, -9, -8, -8, -8, -8, -8, -8, -5, -6, -17, -16,
     -16, -15, -13, -12, -9, -7, -5, -12, -13, -13, -14, -12,
     -13, -14, -15, -17, -19, -20, -19, -18, -17, -15, -13, -12,
     -12, -11, -12, -14, -12, -10, -9, -8, -9, -9, -9, -9, -9, -9, -9, -9, -9, -9],
    [N, N, N, N, N, N, N, N, N, N, N, N, N, N, N, N, N, N, N, N, N, N, -18, -17,
     -16, -15, -14, -13, -10, -7, -6, -10, -12, -12, -14, -12,
     10, -14, -15, -16, -18, -19, -18, -18, -16, -15, -13, -12,
     -13, -12, -12, -15, -12, -10, -9, -9, -9, -9, -9, -9, -9, -9, -9, -9, -9, -10],
]
sample_d = [
    [-47, -47, -42, -47, -47, -47, -47, -47, -47, -47, -47, -25, -15, -5, -45, -47, -47, -47, -45, 10, -18, -8, -45, -28,
     -45, -10, -18, -18, -25, -35, 8, 9, 2, 3, 0, -18,
     3, -15, -8, 8, -18, -20, -10, -5, -30, -28, -32, 9,
     -45, -47, -47, -10, -35, -20, -15, -40, -25, -25, -28, -20, 0, -15, -10, -5, -3, -5],
    [-45, -45, -38, -38, -2, -25, -25, -45, -45, -45, -45, -45, -25, -25, -25, -28, -32, -35, -38, 10, -20, 2, -15, -25,
     -38, -45, -5, -10, -22, -25, 8, 8, 3, 3, -45, -6,
     2, 0, -2, 8, -3, -8, -10, -8, -12, -22, -25, 9,
     -27, -30, -28, -25, -30, -20, -15, -12, -25, -25, -25, -27, -25, -28, -28, -30, -32, -8],
    [N, -45, -12, -15, -8, -6, -8, -30, -30, -35, -40, -45, -45, -40, -38, -35, -35, -38, -36, 2, -22, -8, 2, -30,
     -18, -30, 0, -3, -5, -8, 8, 8, 4, 3, 0, -5,
     3, 3, 5, 5, 2, -3, -8, -8, -7, -6, -6, 9,
     -14, -7, -5, -5, -8, -5, -7, -6, -3, -12, -20, -22, -20, -25, -25, -25, -25, -5],
    [N, N, -12, -15, -25, -22, -12, -32, -32, -32, -35, -36, -38, -36, -36, -35, -33, -30, -28, -28, -18, -10, 7, -15,
     -10, -15, -20, -10, -8, -5, 6, 7, 4, 3, 6, 0,
     6, 7, 3, 2, 2, 1, 0, -3, -5, -5, -10, -3,
     -10, -7, 3, -3, -8, -18, -18, -12, -5, -8, -12, -15, -18, -20, -20, -22, -22, -18],
    [N, N, N, N, N, N, N, -22, -15, -12, -18, -20, -20, -22, -22, -22, -22, -25, -25, -22, -28, -18, 7, 0,
     2, -2, -8, -15, -15, -5, -15, 7, 5, 3, 6, 2,
     7, 7, 5, 4, 2, 2, 1, -2, -3, -5, -3, 2,
     -10, -12, 2, 7, 5, 3, -5, -12, 3, 2, 1, 2, -2, -2, -5, -8, -8, 0],
    [N, N, N, N, N, N, N, N, N, N, N, N, N, N, N, N, N, N, N, N, N, N, 7, 3,
     2, -2, -5, -6, -8, -5, -28, 7, 5, 3, 7, 8,
     -47, 9, 7, 7, 7, 5, 3, 2, 1, -2, 2, 4,
     -5, -2, 9, -1, 9, 1, 2, -8, 2, -2, -5, -8, -10, -8, -10, -15, -10, 5],
]
extra_days = [30, 40, 30, 71, 71, 71, 78, 81, 91, 71]
extra_depths = [-15, -18, -23, -0.5, -3.3, -22, -23.6, -23.6, -22.8, -27.3]
extra_c = [-6, -6, -11, -4, -6, -7, -8, -8, -8, -8]
extra_d = [-27, -27, -8, -4, 8, -25, -22, -23, -15, -12]


def px_axes(x0, y0, x1, y1):
    return fig.add_axes([x0 / W, 1 - y1 / H, (x1 - x0) / W, (y1 - y0) / H])


def fig_text(x, y, s, **kw):
    kw.setdefault('ha', 'center')
    kw.setdefault('va', 'center')
    fig.text(x / W, 1 - y / H, s, **kw)


def band_colors(levels, vmin, vmax):
    return [parula(min((l - vmin) / (vmax - vmin), 1.0)) for l in levels[:-1]]


def draw_bands(ax, days, rows, cols, levels, vmin, vmax, lw=0.9):
    z = np.array(cols, dtype=float).T
    ax.contourf(days, rows, z, levels=levels, colors=band_colors(levels, vmin, vmax))
    ax.contour(days, rows, z, levels=levels[1:-1], colors='#141414', linewidths=lw)


def draw_samples(ax, rows, extra, vmin, vmax):
    for row, depth in zip(rows, sample_depths):
        ys = [depth] * len(sample_days)
        if depth == -23.5:
            ys = ys[:-10] + [-22.3] * 10
        ax.scatter(sample_days, ys, c=row, s=68, cmap=parula, vmin=vmin, vmax=vmax, edgecolors='#1c2a3a',
                   linewidths=1.0, zorder=4, clip_on=False)
    ax.scatter(extra_days, extra_depths, c=extra, s=68, cmap=parula, vmin=vmin, vmax=vmax,
               edgecolors='#1c2a3a', linewidths=1.0, zorder=4, clip_on=False)


def finish_axes(ax, yticks, ylims, cbar_ticks, vmin, vmax, y0, y1, letter, ypad):
    ax.set_xlim(0, last_day)
    ax.set_ylim(*ylims)
    ax.set_yticks(yticks)
    ax.set_yticklabels(['%d' % t for t in yticks], fontsize=14, color='#404040')
    ax.set_xticks(tick_days)
    ax.set_xticklabels(tick_names, fontsize=15, color='#303030', rotation=-15, ha='left',
                       va='top', rotation_mode='anchor')
    ax.tick_params(axis='both', direction='in', top=True, right=True, length=5, width=0.8,
                   color='#404040')
    ax.tick_params(axis='x', pad=10)
    ax.tick_params(axis='y', pad=ypad)
    for s in ax.spines.values():
        s.set_color('#808080')
        s.set_linewidth(1.0)
    ax.set_ylabel(r'$depth\ (cm)$', fontsize=16, color='#555555', va='center')
    ax.yaxis.set_label_coords(-54.0 / 854.0, 0.5)
    cax = px_axes(969, y0, 1010, y1)
    sm = ScalarMappable(norm=Normalize(vmin, vmax), cmap=parula)
    cb = fig.colorbar(sm, cax=cax, ticks=cbar_ticks)
    cb.ax.set_yticklabels(['%g' % t for t in cbar_ticks], fontsize=12.5, color='#404040')
    cb.ax.tick_params(length=3, width=0.8, direction='in', color='#404040', pad=7)
    cb.ax.axvline(0.61, color='white', alpha=0.3, lw=1)
    cb.outline.set_edgecolor('#808080')
    fig_text(76, y0 - 24, letter, fontsize=16, ha='left', color='#222222')
    fig_text(503, y1 + 62, r'$date\ (YYYYMMDD)$', fontsize=18.5, color='#555555')


fig = plt.figure(figsize=(10.46, 12.02), dpi=100)

# panel a
ax = px_axes(76, 72, 930, 242)
levels = [0, 5, 10, 15, 20, 25, 30, 35, 100]
lev_swc = [l / 100.0 for l in levels]
z_a = np.array(swc_a).T / 100.0
ax.contourf(days_a, rows_a, z_a, levels=lev_swc, colors=band_colors(lev_swc, 0, 0.35))
ax.contour(days_a, rows_a, z_a, levels=lev_swc[1:-1], colors='#141414', linewidths=0.9)
ax.vlines(spike_days_a, spike_top_a, spike_low_a, color='#141414', lw=0.9)
ax.vlines(fringe_days_a, 0, fringe_low_a, color='#141414', lw=1.0)
ax.vlines([497], 0, -42, color='#101010', lw=3)
ax.axhline(-0.4, color='#141414', lw=1.2)
finish_axes(ax, [0, -20, -40, -60, -80], (-90, 0), [0, 0.1, 0.2, 0.3], 0, 0.35, 72, 242, '(a)', 10)
fig_text(503, 27, r'$Soil\ water\ (mm^3mm^{-3})$', fontsize=17, color='#222222')
fig_text(465, 53, r'$iCLM4\ modeled$', fontsize=17, color='#222222')

# panel b
ax = px_axes(76, 366, 930, 537)
z_b = np.array(swc_b).T / 100.0
ax.contourf(days_b, rows_b, z_b, levels=lev_swc, colors=band_colors(lev_swc, 0, 0.35))
ax.contour(days_b, rows_b, z_b, levels=lev_swc[1:-1], colors='#141414', linewidths=0.9)
for d0, d1 in missing_b:
    ax.axvspan(d0, d1, color='white', lw=0.4, zorder=3)
finish_axes(ax, [0, -20, -40, -60, -80], (-90, 0), [0, 0.1, 0.2, 0.3], 0, 0.35, 366, 537, '(b)', 10)
fig_text(506, 347, r'$mean\ observed$', fontsize=16.5, color='#222222')

# panel c
ax = px_axes(76, 661, 930, 832)
lev_c = [-25 + 2.5 * i for i in range(15)] + [100]
draw_bands(ax, days_c, rows_c, d18o_c, lev_c, -25, 10)
sub_c = np.interp(top_days, days_c, np.array(d18o_c)[:, 0])
draw_bands(ax, top_days, [-2, 0], [[a, b] for a, b in zip(sub_c, surface_c)], lev_c, -25, 10, lw=0.9)
warm_days = [d for d, v in zip(top_days, surface_c) if v >= 2]
ax.vlines(warm_days, -1.8, 0, color='#141414', lw=2.2)
draw_samples(ax, sample_c, extra_c, -25, 10)
finish_axes(ax, [0, -5, -10, -15, -20, -25, -30], (-30, 0), [-20, -10, 0, 10], -25, 10, 661, 832, '(c)', 5)
fig_text(503, 645, r'$Soil\ water\ \delta^{18}O\ (per\ mille)$', fontsize=17, color='#222222')

# panel d
ax = px_axes(76, 957, 930, 1127)
lev_d = [-50 + 5 * i for i in range(13)] + [100]
draw_bands(ax, days_d, rows_d, dexc_d, lev_d, -50, 11)
ax.fill_between(top_days, 0, surface_d, color='white', lw=0, zorder=2)
ax.plot(top_days, surface_d, color='black', lw=3, zorder=3)
draw_samples(ax, sample_d, extra_d, -50, 11)
finish_axes(ax, [0, -5, -10, -15, -20, -25, -30], (-30, 0), [-40, -20, 0], -50, 11, 957, 1127, '(d)', 5)
fig_text(503, 937, r'$Soil\ water\ d\ (per\ mille)$', fontsize=17, color='#222222')

fig.savefig('out.png', dpi=100)
